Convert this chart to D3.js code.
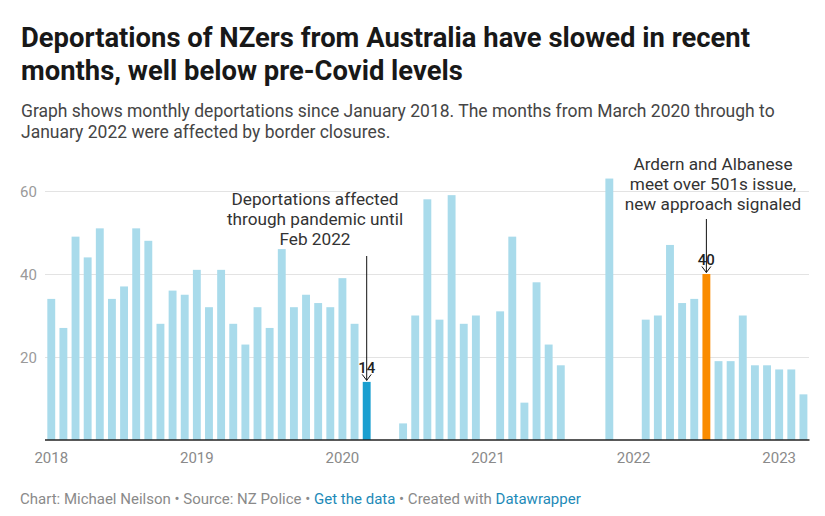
<!DOCTYPE html>
<html>
<head>
<meta charset="utf-8">
<script src="https://cdn.jsdelivr.net/npm/d3@7"></script>
<style>
  html, body { margin: 0; padding: 0; background: #fff; }
  svg { display: block; font-family: Roboto, "Noto Sans", sans-serif; }
</style>
</head>
<body>
<svg id="chart" width="825" height="516"></svg>
<script>
// ---------- DATA ----------
const months = [];
for (let y = 2018; y <= 2023; y++) {
  for (let m = 1; m <= 12; m++) {
    if (y === 2023 && m > 3) break;
    months.push(y + "-" + String(m).padStart(2, "0"));
  }
}
const deportations = [
  // 2018
  34, 27, 49, 44, 51, 34, 37, 51, 48, 28, 36, 35,
  // 2019
  41, 32, 41, 28, 23, 32, 27, 46, 32, 35, 33, 32,
  // 2020
  39, 28, 14, 0, 0, 4, 30, 58, 29, 59, 28, 30,
  // 2021
  0, 31, 49, 9, 38, 23, 18, 0, 0, 0, 63, 0,
  // 2022
  0, 29, 30, 47, 33, 34, 40, 19, 19, 30, 18, 18,
  // 2023
  17, 17, 11
];
const highlightBlue = ["2020-03"];
const highlightOrange = ["2022-07"];
const yTicks = [20, 40, 60];
const xTickMonths = ["2018-01", "2019-01", "2020-01", "2021-01", "2022-01", "2023-01"];
const xTickLabels = ["2018", "2019", "2020", "2021", "2022", "2023"];

const titleLines = [
  "Deportations of NZers from Australia have slowed in recent",
  "months, well below pre-Covid levels"
];
const subtitleLines = [
  "Graph shows monthly deportations since January 2018. The months from March 2020 through to",
  "January 2022 were affected by border closures."
];
const annotations = [
  { month: "2020-03", value: 14, lines: ["Deportations affected", "through pandemic until", "Feb 2022"], textX: 315, textY: 205, arrowTop: 256 },
  { month: "2022-07", value: 40, lines: ["Ardern and Albanese", "meet over 501s issue,", "new approach signaled"], textX: 713, textY: 170, arrowTop: 219 }
];

// ---------- CHART ----------
const svg = d3.select("#chart");

const x = d3.scaleBand().domain(months).range([45.2, 809.5]).paddingInner(0.35).paddingOuter(0.175);
const y = d3.scaleLinear().domain([0, 60]).range([440, 191]);

// title
const title = svg.append("text").attr("x", 21).attr("y", 47)
  .attr("font-size", 27.4).attr("font-weight", 700).attr("fill", "#181818");
titleLines.forEach((t, i) => title.append("tspan").attr("x", 21).attr("dy", i === 0 ? 0 : 33).text(t));

// subtitle
const sub = svg.append("text").attr("x", 21).attr("y", 117)
  .attr("font-size", 17.5).attr("fill", "#454545");
subtitleLines.forEach((t, i) => sub.append("tspan").attr("x", 21).attr("dy", i === 0 ? 0 : 20.5).text(t));

// gridlines
svg.append("g").selectAll("line").data(yTicks).join("line")
  .attr("x1", 45).attr("x2", 809)
  .attr("y1", d => Math.round(y(d)) + 0.5).attr("y2", d => Math.round(y(d)) + 0.5)
  .attr("stroke", "#e3e3e3").attr("stroke-width", 1);

// y labels
svg.append("g").selectAll("text").data(yTicks).join("text")
  .attr("x", 20).attr("y", d => y(d) + 5.5)
  .attr("font-size", 15).attr("fill", "#9a9a9a")
  .text(d => d);

// bars
const data = months.map((m, i) => ({ month: m, value: deportations[i] }));
svg.append("g").selectAll("rect").data(data.filter(d => d.value > 0)).join("rect")
  .attr("x", d => x(d.month))
  .attr("width", x.bandwidth())
  .attr("y", d => y(d.value))
  .attr("height", d => y(0) - y(d.value))
  .attr("fill", d => highlightBlue.includes(d.month) ? "#1a9fd0"
                   : highlightOrange.includes(d.month) ? "#fa8c00" : "#a9dbeb");

// baseline
svg.append("line").attr("x1", 45).attr("x2", 809.5)
  .attr("y1", y(0)).attr("y2", y(0))
  .attr("stroke", "#222").attr("stroke-width", 1.5);

// x labels
svg.append("g").selectAll("text").data(xTickMonths).join("text")
  .attr("x", d => x(d) + x.bandwidth() / 2).attr("y", 463)
  .attr("text-anchor", "middle").attr("font-size", 15).attr("fill", "#8a8a8a")
  .text((d, i) => xTickLabels[i]);

// annotations
annotations.forEach(a => {
  const cx = x(a.month) + x.bandwidth() / 2;
  const top = y(a.value);
  const t = svg.append("text").attr("x", a.textX).attr("y", a.textY)
    .attr("text-anchor", "middle").attr("font-size", 17.2).attr("fill", "#333");
  a.lines.forEach((l, i) => t.append("tspan").attr("x", a.textX).attr("dy", i === 0 ? 0 : 20).text(l));
  // value label
  svg.append("text").attr("x", cx).attr("y", top - 9)
    .attr("text-anchor", "middle").attr("font-size", 15).attr("font-weight", 500)
    .attr("fill", "#222").text(a.value);
  // arrow
  svg.append("line").attr("x1", cx).attr("x2", cx).attr("y1", a.arrowTop).attr("y2", top - 1.5)
    .attr("stroke", "#111").attr("stroke-width", 1);
  svg.append("path")
    .attr("d", `M${cx - 4.5},${top - 7.5} L${cx},${top - 1.5} L${cx + 4.5},${top - 7.5}`)
    .attr("fill", "none").attr("stroke", "#111").attr("stroke-width", 1);
});

// footer
const foot = svg.append("text").attr("x", 20).attr("y", 504).attr("font-size", 15).attr("fill", "#8a8a8a");
foot.append("tspan").text("Chart: Michael Neilson • Source: NZ Police • ");
foot.append("tspan").attr("fill", "#1d8ab8").text("Get the data");
foot.append("tspan").text(" • Created with ");
foot.append("tspan").attr("fill", "#1d8ab8").text("Datawrapper");
</script>
</body>
</html>
